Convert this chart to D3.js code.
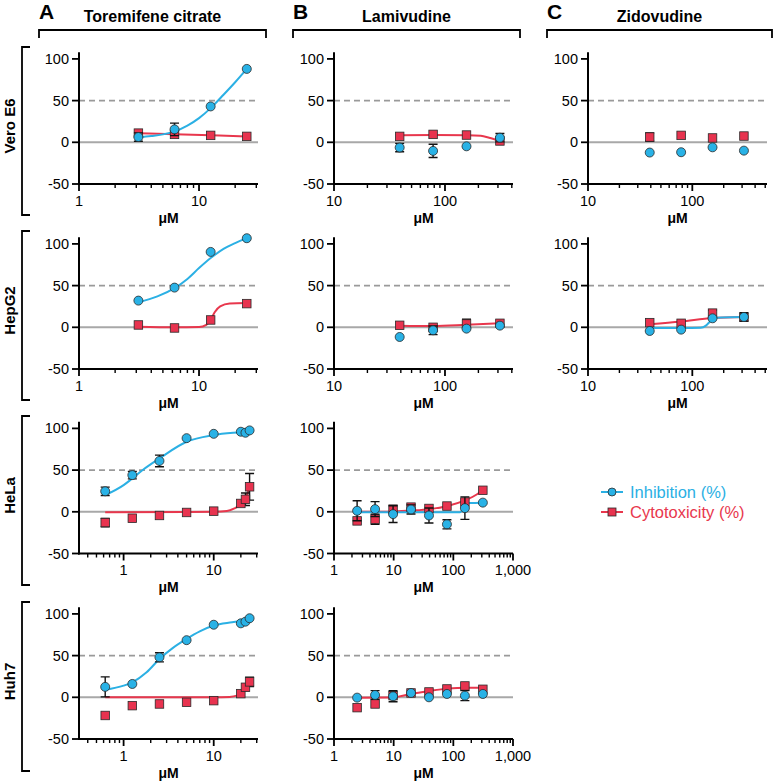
<!DOCTYPE html>
<html><head><meta charset="utf-8">
<script src="https://cdn.jsdelivr.net/npm/d3@7"></script>
<style>body{margin:0;background:#fff}svg{display:block;font-family:"Liberation Sans",Arial,sans-serif}</style>
</head><body>
<svg id="c" width="774" height="782"></svg>
<script>
// ---------------- DATA ----------------
const drugs = ["Toremifene citrate", "Lamivudine", "Zidovudine"];
const panelLetters = ["A", "B", "C"];
const cellLines = ["Vero E6", "HepG2", "HeLa", "Huh7"];
const yTickValues = [-50, 0, 50, 100];
const seriesNames = ["Inhibition (%)", "Cytotoxicity (%)"];

const concTor4 = [3.125, 6.25, 12.5, 25];
const concTor8 = [0.625, 1.25, 2.5, 5, 10, 20, 22.5, 25];
const concLam4 = [39.06, 78.13, 156.25, 312.5];
const concLam8 = [2.44, 4.88, 9.77, 19.53, 39.06, 78.13, 156.25, 312.5];

// Toremifene / Vero E6
const inhTorVero = [6.3, 15.5, 43, 88];
const inhSdTorVero = [5, 7.5, 0, 0];
const cytTorVero = [11, 9.5, 8.3, 7.1];
const cytSdTorVero = [0, 0, 0, 0];
const fitInhTorVero = [[3.125, 6], [4, 7.5], [5, 9.5], [6.25, 13], [8, 20], [10, 29], [12.5, 41], [16, 57], [20, 72], [25, 88]];
const fitCytTorVero = [[3.125, 10.8], [6.25, 9.8], [12.5, 8.5], [25, 7.1]];
// Lamivudine / Vero E6
const inhLamVero = [-6.3, -10.3, -4.8, 5.5];
const inhSdLamVero = [5, 8, 0, 5];
const cytLamVero = [7.1, 9.5, 8.7, 1.6];
const cytSdLamVero = [0, 0, 0, 0];
const fitCytLamVero = [[39.06, 8.6], [80, 8.8], [160, 8.6], [210, 7.8], [250, 5.5], [312.5, 1.6]];
// Zidovudine / Vero E6
const inhZidVero = [-12.3, -11.9, -6, -10];
const inhSdZidVero = [0, 0, 0, 0];
const cytZidVero = [6.3, 8.3, 5.2, 7.5];
const cytSdZidVero = [5, 0, 0, 0];

// Toremifene / HepG2
const inhTorHep = [32, 47.6, 90.4, 106.8];
const inhSdTorHep = [0, 0, 0, 0];
const cytTorHep = [2.8, -0.8, 8.8, 28.4];
const cytSdTorHep = [0, 0, 0, 0];
const fitInhTorHep = [[3.125, 30], [4.5, 37], [6.25, 47], [8, 58], [10, 71], [12.5, 83], [16, 94], [20, 101], [25, 107]];
const fitCytTorHep = [[3.125, 0.6], [6.25, 0], [10, 0.3], [11.5, 3], [12.5, 9], [13.5, 18], [15, 25], [18, 28.5], [25, 29]];
// Lamivudine / HepG2
const inhLamHep = [-11.6, -3.6, -1.6, 2];
const inhSdLamHep = [0, 5.2, 0, 0];
const cytLamHep = [2.4, 0, 4, 4.8];
const cytSdLamHep = [0, 0, 5.6, 0];
const fitCytLamHep = [[39.06, 2], [78, 1.5], [156, 3], [312.5, 4.8]];
// Zidovudine / HepG2
const inhZidHep = [-4.4, -2.8, 10.8, 12.4];
const inhSdZidHep = [0, 0, 0, 5];
const cytZidHep = [5.6, 4.8, 17, 12];
const cytSdZidHep = [0, 0, 3.5, 0];
const fitInhZidHep = [[39.06, -0.8], [80, -0.8], [120, -0.5], [135, 2], [148, 7], [160, 10.5], [190, 11.8], [312.5, 12.3]];
const fitCytZidHep = [[39.06, 3.8], [78, 7], [156, 11.2], [312.5, 12.5]];

// Toremifene / HeLa
const inhTorHeLa = [24.6, 44, 61, 88.3, 93.5, 96, 94.8, 97.6];
const inhSdTorHeLa = [5, 4.5, 7, 0, 0, 0, 0, 0];
const cytTorHeLa = [-12.9, -7.7, -4.4, -0.8, 0.8, 10, 15, 30];
const cytSdTorHeLa = [5, 0, 0, 0, 0, 0, 7.5, 16];
const fitInhTorHeLa = [[0.625, 20], [1, 32], [1.25, 40], [1.67, 51], [2.5, 64], [5, 84], [10, 92], [20, 95.5], [25, 96.5]];
const fitCytTorHeLa = [[0.625, -0.5], [5, -0.3], [10, 0], [14, 1], [17, 4], [20, 9], [22.5, 16], [25, 29]];
// Lamivudine / HeLa
const inhLamHeLa = [1.2, 3.2, -2.8, 2.8, -4.4, -15, 4.4, 11];
const inhSdLamHeLa = [12, 9, 10, 5.5, 9, 5.5, 13.5, 0];
const cytLamHeLa = [-10.9, -8.9, 3.2, 5.6, 4, 6.9, 11.7, 25.8];
const cytSdLamHeLa = [0, 6, 0, 0, 0, 0, 0, 0];
const fitInhLamHeLa = [[2.44, -0.5], [130, -0.5], [145, 3], [160, 8], [180, 10.5], [312.5, 11]];
const fitCytLamHeLa = [[2.44, 0], [10, 0.5], [20, 1.5], [40, 3.2], [80, 7], [160, 14], [250, 21], [312.5, 26]];

// Toremifene / Huh7
const inhTorHuh = [12.5, 16, 48, 68.5, 87, 88.7, 90.7, 94.8];
const inhSdTorHuh = [12, 0, 5.5, 0, 0, 0, 0, 0];
const cytTorHuh = [-21.8, -10, -8, -6, -4, 4.4, 12, 18.5];
const cytSdTorHuh = [0, 0, 0, 0, 0, 0, 0, 5.5];
const fitInhTorHuh = [[0.625, 9], [1, 14], [1.25, 18], [1.8, 30], [2.5, 46], [3.5, 59], [5, 70], [7, 79], [10, 86], [16, 90], [25, 93]];
const fitCytTorHuh = [[0.625, 0], [10, 0], [15, 0.5], [18, 2], [20, 4.5], [22.5, 10], [25, 18]];
// Lamivudine / Huh7
const inhLamHuh = [-0.4, 2.8, 1.2, 5.2, 0, 4, 2, 4];
const inhSdLamHuh = [0, 5.2, 6.6, 0, 0, 0, 6, 0];
const cytLamHuh = [-12.4, -8, 2, 5.2, 6.4, 10, 13.6, 9.6];
const cytSdLamHuh = [0, 0, 0, 0, 0, 0, 0, 0];
const fitCytLamHuh = [[2.44, -0.5], [8, -0.3], [12, 0.8], [20, 4.2], [40, 7.6], [80, 10.4], [160, 11.6], [312.5, 11.5]];

// ---------------- PANELS ----------------
const panels = [
  {col: 0, row: 0, dom: [1, 31], x: concTor4, inh: inhTorVero, inhSd: inhSdTorVero, cyt: cytTorVero, cytSd: cytSdTorVero, fitInh: fitInhTorVero, fitCyt: fitCytTorVero},
  {col: 1, row: 0, dom: [10, 410], x: concLam4, inh: inhLamVero, inhSd: inhSdLamVero, cyt: cytLamVero, cytSd: cytSdLamVero, fitInh: null, fitCyt: fitCytLamVero},
  {col: 2, row: 0, dom: [10, 520], x: concLam4, inh: inhZidVero, inhSd: inhSdZidVero, cyt: cytZidVero, cytSd: cytSdZidVero, fitInh: null, fitCyt: null},
  {col: 0, row: 1, dom: [1, 31], x: concTor4, inh: inhTorHep, inhSd: inhSdTorHep, cyt: cytTorHep, cytSd: cytSdTorHep, fitInh: fitInhTorHep, fitCyt: fitCytTorHep},
  {col: 1, row: 1, dom: [10, 410], x: concLam4, inh: inhLamHep, inhSd: inhSdLamHep, cyt: cytLamHep, cytSd: cytSdLamHep, fitInh: null, fitCyt: fitCytLamHep},
  {col: 2, row: 1, dom: [10, 520], x: concLam4, inh: inhZidHep, inhSd: inhSdZidHep, cyt: cytZidHep, cytSd: cytSdZidHep, fitInh: fitInhZidHep, fitCyt: fitCytZidHep},
  {col: 0, row: 2, dom: [0.32, 31], x: concTor8, inh: inhTorHeLa, inhSd: inhSdTorHeLa, cyt: cytTorHeLa, cytSd: cytSdTorHeLa, fitInh: fitInhTorHeLa, fitCyt: fitCytTorHeLa},
  {col: 1, row: 2, dom: [1, 1000], x: concLam8, inh: inhLamHeLa, inhSd: inhSdLamHeLa, cyt: cytLamHeLa, cytSd: cytSdLamHeLa, fitInh: fitInhLamHeLa, fitCyt: fitCytLamHeLa},
  {col: 0, row: 3, dom: [0.32, 31], x: concTor8, inh: inhTorHuh, inhSd: inhSdTorHuh, cyt: cytTorHuh, cytSd: cytSdTorHuh, fitInh: fitInhTorHuh, fitCyt: fitCytTorHuh},
  {col: 1, row: 3, dom: [1, 1000], x: concLam8, inh: inhLamHuh, inhSd: inhSdLamHuh, cyt: cytLamHuh, cytSd: cytSdLamHuh, fitInh: null, fitCyt: fitCytLamHuh}
];

// ---------------- LAYOUT / STYLE ----------------
const colX = [79, 334, 588];
const rowBase = [184, 369, 553.5, 739];
const plotW = 179;
const pxPerUnit = 0.834;
const CYAN = "#29b2e6", CYAN_LINE = "#2bb0e4";
const RED = "#e8334f", RED_LINE = "#e8374d";
const MARK_STROKE = "#2a2a2a";

const svg = d3.select("#c");
const fmt = d3.format(",");

// Column headers
[[39, 266], [293, 520], [547, 772]].forEach(([a, b], i) => {
  svg.append("path").attr("d", `M${a},38V30H${b}V38`).attr("fill", "none").attr("stroke", "#000").attr("stroke-width", 1.8);
  svg.append("text").attr("x", (a + b) / 2).attr("y", 21.5).attr("text-anchor", "middle")
    .attr("font-size", 16).attr("font-weight", "bold").text(drugs[i]);
  svg.append("text").attr("x", a).attr("y", 19).attr("font-size", 21).attr("font-weight", "bold").text(panelLetters[i]);
});

// Row brackets and labels
[[47, 215], [231, 400], [416, 585], [602, 771]].forEach(([a, b], i) => {
  svg.append("path").attr("d", `M30,${a}H22V${b}H30`).attr("fill", "none").attr("stroke", "#000").attr("stroke-width", 1.8);
  svg.append("text").attr("transform", `translate(15,${(a + b) / 2 - 5}) rotate(-90)`)
    .attr("text-anchor", "middle").attr("font-size", 15).attr("font-weight", "bold").text(cellLines[i]);
});

function logTicks(dom) {
  const out = [];
  const p0 = Math.floor(Math.log10(dom[0])), p1 = Math.ceil(Math.log10(dom[1]));
  for (let p = p0; p <= p1; p++) {
    for (let k = 1; k <= 9; k++) {
      const v = k * Math.pow(10, p);
      if (v >= dom[0] * 0.999 && v <= dom[1] * 1.001) out.push({v, major: k === 1});
    }
  }
  return out;
}

function marker(g, shape, cx, cy, color, size) {
  if (shape === "circle") {
    g.append("circle").attr("cx", cx).attr("cy", cy).attr("r", size / 2)
      .attr("fill", color).attr("stroke", MARK_STROKE).attr("stroke-width", 0.8);
  } else {
    g.append("rect").attr("x", cx - size / 2).attr("y", cy - size / 2).attr("width", size).attr("height", size)
      .attr("fill", color).attr("stroke", MARK_STROKE).attr("stroke-width", 0.8);
  }
}

panels.forEach(p => {
  const x0 = colX[p.col], yb = rowBase[p.row];
  const x = d3.scaleLog().domain(p.dom).range([x0, x0 + plotW]);
  const y = d3.scaleLinear().domain([-50, 108]).range([yb, yb - 158 * pxPerUnit]);
  const g = svg.append("g");

  // reference lines
  g.append("line").attr("x1", x0).attr("x2", x0 + plotW).attr("y1", y(50)).attr("y2", y(50))
    .attr("stroke", "#9a9a9a").attr("stroke-width", 1.6).attr("stroke-dasharray", "6,4");
  g.append("line").attr("x1", x0).attr("x2", x0 + plotW).attr("y1", y(0)).attr("y2", y(0))
    .attr("stroke", "#a8a8a8").attr("stroke-width", 2);

  // y axis
  g.append("line").attr("x1", x0).attr("x2", x0).attr("y1", y(108)).attr("y2", yb + 1)
    .attr("stroke", "#000").attr("stroke-width", 2);
  yTickValues.forEach(v => {
    g.append("line").attr("x1", x0 - 7).attr("x2", x0).attr("y1", y(v)).attr("y2", y(v)).attr("stroke", "#000").attr("stroke-width", 1.8);
    g.append("text").attr("x", x0 - 10).attr("y", y(v)).attr("dy", "0.35em").attr("text-anchor", "end")
      .attr("font-size", 14.5).text(v);
  });

  // x axis
  g.append("line").attr("x1", x0 - 1).attr("x2", x0 + plotW).attr("y1", yb).attr("y2", yb)
    .attr("stroke", "#000").attr("stroke-width", 2);
  logTicks(p.dom).forEach(t => {
    const xp = x(t.v);
    g.append("line").attr("x1", xp).attr("x2", xp).attr("y1", yb).attr("y2", yb + (t.major ? 7 : 4))
      .attr("stroke", "#000").attr("stroke-width", t.major ? 1.8 : 1.4);
    if (t.major) g.append("text").attr("x", xp).attr("y", yb + 21.5).attr("text-anchor", "middle")
      .attr("font-size", 14.5).text(fmt(t.v));
  });
  g.append("text").attr("x", x0 + plotW / 2).attr("y", yb + 38.5).attr("text-anchor", "middle")
    .attr("font-size", 14).attr("font-weight", "bold").text("μM");

  const line = d3.line().x(d => x(d[0])).y(d => y(d[1])).curve(d3.curveMonotoneX);
  if (p.fitCyt) g.append("path").attr("d", line(p.fitCyt)).attr("fill", "none").attr("stroke", RED_LINE).attr("stroke-width", 2);
  if (p.fitInh) g.append("path").attr("d", line(p.fitInh)).attr("fill", "none").attr("stroke", CYAN_LINE).attr("stroke-width", 2);

  const drawSeries = (vals, sds, shape, color, size) => {
    vals.forEach((v, i) => {
      const sd = sds[i], cx = x(p.x[i]);
      if (sd > 0) {
        const ya = y(v - sd), yb2 = y(v + sd);
        g.append("path").attr("d", `M${cx},${ya}V${yb2}M${cx - 4.5},${ya}H${cx + 4.5}M${cx - 4.5},${yb2}H${cx + 4.5}`)
          .attr("fill", "none").attr("stroke", "#111").attr("stroke-width", 1.4);
      }
    });
    vals.forEach((v, i) => marker(g, shape, x(p.x[i]), y(v), color, size));
  };
  drawSeries(p.cyt, p.cytSd, "square", RED, 8.5);
  drawSeries(p.inh, p.inhSd, "circle", CYAN, 9);
});

// Legend
const lg = svg.append("g");
[[492, "circle", CYAN, CYAN_LINE], [512, "square", RED, RED_LINE]].forEach(([ly, shape, col, lcol], i) => {
  lg.append("line").attr("x1", 601).attr("x2", 623).attr("y1", ly).attr("y2", ly).attr("stroke", lcol).attr("stroke-width", 2);
  marker(lg, shape, 612, ly, col, 8);
  lg.append("text").attr("x", 630).attr("y", ly).attr("dy", "0.36em").attr("font-size", 16.5).attr("fill", lcol).text(seriesNames[i]);
});
</script>
</body></html>
